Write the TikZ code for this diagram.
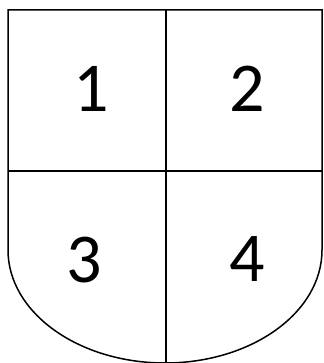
\documentclass[tikz,border=0pt]{standalone}
\usepackage{fontspec}
\setmainfont{Carlito}
\begin{document}
\begin{tikzpicture}[x=1pt, y=1pt]
  \tikzstyle{num} = [font=\fontsize{70}{78}\selectfont, inner sep=0pt]
  \tikzstyle{edge} = [line width=1.5pt, line join=miter]
  \useasboundingbox (0,0) rectangle (323,363);
  % shield outline
  \draw[edge] (322,113) -- (322,353) -- (8,353) -- (8,113)
    arc[start angle=180, end angle=360, x radius=157, y radius=113];
  % dividing lines
  \coordinate (top) at (166,353);
  \coordinate (bot) at (166,0);
  \coordinate (left) at (8,192);
  \coordinate (right) at (322,192);
  \draw[edge] (top) -- (bot);
  \draw[edge] (left) -- (right);
  % quarter numbers
  \node[num] (q1) at (91,274) {1};
  \node[num] (q2) at (247,274) {2};
  \node[num] (q3) at (84,103) {3};
  \node[num] (q4) at (247,104) {4};
\end{tikzpicture}
\end{document}
